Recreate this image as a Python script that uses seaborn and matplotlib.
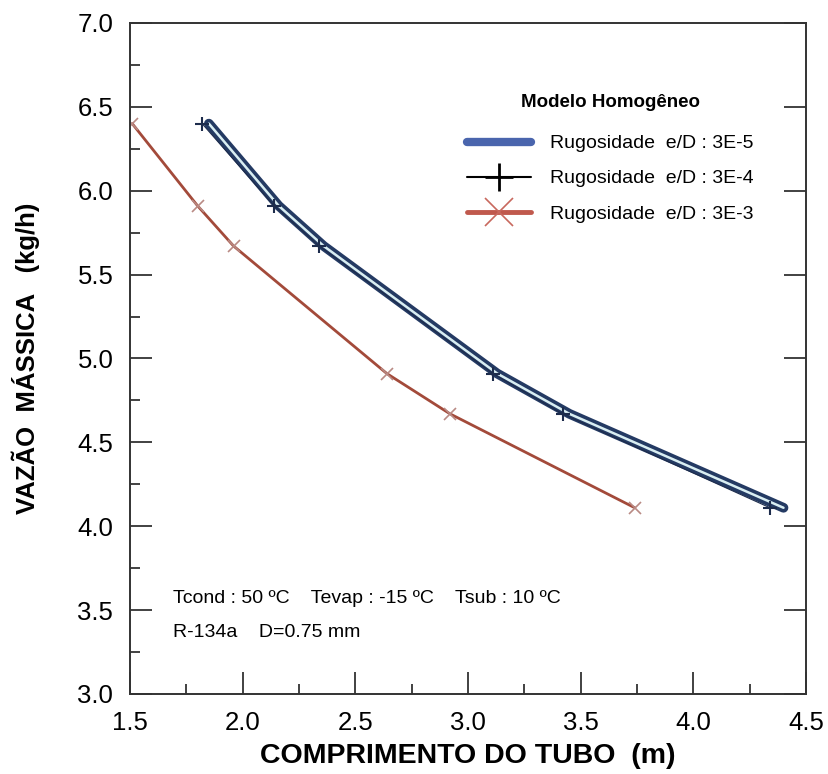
import matplotlib
matplotlib.use("Agg")
import matplotlib.pyplot as plt
import matplotlib.patheffects as pe
from matplotlib.lines import Line2D
from matplotlib.ticker import MultipleLocator, FormatStrFormatter
import seaborn as sns

# Mass flow (kg/h) and the tube length (m) needed for each roughness
flow = [6.40, 5.91, 5.67, 4.91, 4.67, 4.11]
len_3e5 = [1.85, 2.16, 2.36, 3.13, 3.45, 4.40]
len_3e4 = [1.82, 2.14, 2.34, 3.11, 3.42, 4.34]
len_3e3 = [1.51, 1.80, 1.96, 2.64, 2.92, 3.74]

labels = ["Rugosidade  e/D : 3E-5",
          "Rugosidade  e/D : 3E-4",
          "Rugosidade  e/D : 3E-3"]
legend_title = "Modelo Homogêneo"
conditions = "Tcond : 50 ºC    Tevap : -15 ºC    Tsub : 10 ºC"
fluid = "R-134a    D=0.75 mm"

sns.set_theme(style="ticks")
plt.rcParams["font.family"] = ["Liberation Sans", "DejaVu Sans"]
plt.rcParams["text.color"] = "black"
plt.rcParams["axes.labelcolor"] = "black"

fig = plt.figure(figsize=(8.29, 7.74), dpi=100)
ax = fig.add_axes([0.1568, 0.1034, 0.8155, 0.8669])

# e/D = 3E-5 : thick navy band with a pale core
sns.lineplot(x=len_3e5, y=flow, ax=ax, sort=False, color="#d9eef2", lw=1.8,
             path_effects=[pe.Stroke(linewidth=7, foreground="#243a63"), pe.Normal()])
# e/D = 3E-4 : thin line with + markers
sns.lineplot(x=len_3e4, y=flow, ax=ax, sort=False, color="#1d2c4c", lw=0.8,
             marker="+", markersize=10, markeredgecolor="#1d2c4c", markeredgewidth=1.5)
# e/D = 3E-3 : red line with x markers
sns.lineplot(x=len_3e3, y=flow, ax=ax, sort=False, color="#a34a3a", lw=2,
             marker="x", markersize=8, markeredgecolor="#b98a84", markeredgewidth=1.2)

ax.set_xlim(1.5, 4.5)
ax.set_ylim(3.0, 7.0)
ax.xaxis.set_major_locator(MultipleLocator(0.5))
ax.xaxis.set_minor_locator(MultipleLocator(0.25))
ax.yaxis.set_major_locator(MultipleLocator(0.5))
ax.yaxis.set_minor_locator(MultipleLocator(0.25))
ax.xaxis.set_major_formatter(FormatStrFormatter("%.1f"))
ax.yaxis.set_major_formatter(FormatStrFormatter("%.1f"))

for s in ax.spines.values():
    s.set_color("#333333")
    s.set_linewidth(1.4)

ax.tick_params(which="both", direction="in", colors="#333333", labelcolor="black",
               top=False, right=True, width=1.3)
ax.tick_params(which="major", length=16, labelsize=18.5, pad=12)
ax.tick_params(which="minor", length=7, right=False)

ax.set_xlabel("COMPRIMENTO DO TUBO  (m)", fontsize=20.5, fontweight="bold", labelpad=6)
ax.set_ylabel("VAZÃO  MÁSSICA   (kg/h)", fontsize=18.5, fontweight="bold", labelpad=27)

handles = [
    Line2D([], [], color="#4a65ad", lw=6, solid_capstyle="round"),
    Line2D([], [], color="black", lw=1.5, marker="+", markersize=20, mew=2),
    Line2D([], [], color="#c0594d", lw=3.5, marker="x", markersize=20, mew=1.2,
           markeredgecolor="#c8685e"),
]
leg = ax.legend(handles, labels, title=legend_title, loc="upper left",
                bbox_to_anchor=(0.472, 0.920), frameon=False, fontsize=14,
                title_fontproperties={"weight": "bold", "size": 13.5},
                handlelength=3.3, handletextpad=1.0, labelspacing=0.9)
leg._legend_box.sep = 17

ax.text(0.0636, 0.143, conditions, transform=ax.transAxes, fontsize=14, va="center")
ax.text(0.0636, 0.091, fluid, transform=ax.transAxes, fontsize=14, va="center")

fig.savefig("out.png", dpi=100)
